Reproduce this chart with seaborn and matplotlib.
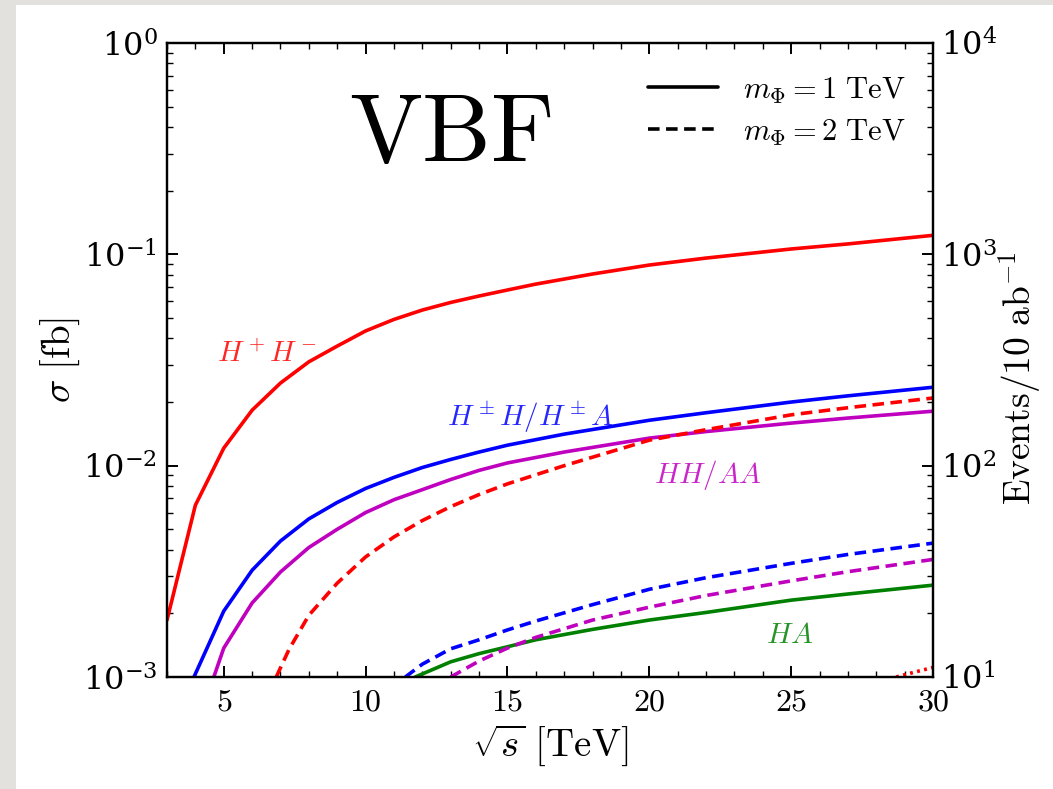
import numpy as np
import pandas as pd
import matplotlib
matplotlib.use("Agg")
import matplotlib.pyplot as plt
from matplotlib.patches import Rectangle
from matplotlib.ticker import LogLocator, LogFormatterMathtext, MultipleLocator, NullFormatter, FuncFormatter
from matplotlib.lines import Line2D
import seaborn as sns

# ---------------- data (sqrt(s) in TeV, sigma in fb) ----------------
x_hphm_1 = [3, 4, 5, 6, 7, 8, 9, 10, 11, 12, 13, 14, 15, 16, 18, 20, 22, 25, 27, 30]
y_hphm_1 = [1.86e-3, 6.5e-3, 0.0121, 0.0183, 0.0246, 0.031, 0.0368, 0.0434, 0.0492,
            0.0545, 0.0592, 0.0635, 0.0678, 0.0723, 0.0807, 0.089, 0.096, 0.106,
            0.112, 0.123]

x_hpmh_1 = [3.95, 5, 6, 7, 8, 9, 10, 11, 12, 13, 14, 15, 17, 20, 22, 25, 27, 30]
y_hpmh_1 = [1.0e-3, 2.05e-3, 3.2e-3, 4.4e-3, 5.6e-3, 6.7e-3, 7.8e-3, 8.8e-3, 9.8e-3,
            0.0107, 0.0116, 0.0125, 0.0141, 0.0164, 0.0178, 0.020, 0.0214, 0.0235]

x_hhaa_1 = [4.65, 5, 6, 7, 8, 9, 10, 11, 12, 13, 14, 15, 17, 20, 22, 25, 27, 30]
y_hhaa_1 = [1.0e-3, 1.37e-3, 2.24e-3, 3.14e-3, 4.1e-3, 5.0e-3, 6.0e-3, 6.9e-3, 7.7e-3,
            8.6e-3, 9.5e-3, 0.0103, 0.0116, 0.0135, 0.0145, 0.0159, 0.0168, 0.0181]

x_ha_1 = [11.75, 13, 14, 15, 16, 18, 20, 22, 25, 27, 30]
y_ha_1 = [1.0e-3, 1.18e-3, 1.29e-3, 1.39e-3, 1.5e-3, 1.68e-3, 1.86e-3, 2.02e-3,
          2.31e-3, 2.47e-3, 2.72e-3]

x_hphm_2 = [6.85, 7.3, 8, 9, 10, 11, 12, 13, 14, 15, 17, 20, 22, 25, 27, 30]
y_hphm_2 = [1.0e-3, 1.35e-3, 1.96e-3, 2.78e-3, 3.7e-3, 4.6e-3, 5.5e-3, 6.4e-3, 7.3e-3,
            8.2e-3, 0.0100, 0.0132, 0.0148, 0.0174, 0.0188, 0.0209]

x_hpmh_2 = [11.4, 12, 13, 14, 15, 16, 18, 20, 22, 25, 27, 30]
y_hpmh_2 = [1.0e-3, 1.15e-3, 1.36e-3, 1.5e-3, 1.67e-3, 1.84e-3, 2.2e-3, 2.6e-3,
            2.95e-3, 3.45e-3, 3.8e-3, 4.3e-3]

x_hhaa_2 = [13.0, 14, 15, 16, 18, 20, 22, 25, 27, 30]
y_hhaa_2 = [1.0e-3, 1.19e-3, 1.37e-3, 1.54e-3, 1.86e-3, 2.14e-3, 2.43e-3, 2.85e-3,
            3.15e-3, 3.6e-3]

x_hphm_3 = [28.7, 29.3, 30]
y_hphm_3 = [1.0e-3, 1.05e-3, 1.11e-3]

legend_labels = [r"$m_\Phi = 1\ \mathrm{TeV}$", r"$m_\Phi = 2\ \mathrm{TeV}$"]
curve_labels = [r"$H^+H^-$", r"$H^\pm H/H^\pm A$", r"$HH/AA$", r"$HA$"]

# ---------------- style ----------------
sns.set_style("ticks")
plt.rcParams["mathtext.fontset"] = "cm"
plt.rcParams["font.family"] = ["DejaVu Serif"]
plt.rcParams["axes.linewidth"] = 1.6
for k in ["text.color", "axes.labelcolor", "xtick.color", "ytick.color", "axes.edgecolor"]:
    plt.rcParams[k] = "black"

fig = plt.figure(figsize=(10.53, 7.89), dpi=100)
fig.patch.set_facecolor("#e3e1dd")
fig.patches.append(Rectangle((16 / 1053, 0), 1, 1 - 5 / 789, transform=fig.transFigure,
                             facecolor="white", edgecolor="none", zorder=-10))

ax = fig.add_axes([167 / 1053, 1 - 677 / 789, (933 - 167) / 1053, (677 - 43) / 789])
ax.set_facecolor("white")

RED, BLUE, MAG, GRN = "#ff0000", "#0000ff", "#bf00bf", "#008000"
lw = 2.6
DASH = (0, (3.2, 1.8))

series = [
    (x_hphm_1, y_hphm_1, RED, "-"),
    (x_hpmh_1, y_hpmh_1, BLUE, "-"),
    (x_hhaa_1, y_hhaa_1, MAG, "-"),
    (x_ha_1, y_ha_1, GRN, "-"),
    (x_hphm_2, y_hphm_2, RED, DASH),
    (x_hpmh_2, y_hpmh_2, BLUE, DASH),
    (x_hhaa_2, y_hhaa_2, MAG, DASH),
    (x_hphm_3, y_hphm_3, RED, (0, (0.8, 1.2))),
]
for xs, ys, c, ls in series:
    df = pd.DataFrame({"x": xs, "y": ys})
    sns.lineplot(data=df, x="x", y="y", ax=ax, color=c, linestyle=ls, lw=lw,
                 estimator=None, sort=True, legend=False)

ax.set_yscale("log")
ax.set_xlim(3, 30)
ax.set_ylim(1e-3, 1)
ax.xaxis.set_major_locator(MultipleLocator(5))
ax.xaxis.set_minor_locator(MultipleLocator(1))
ax.yaxis.set_major_locator(LogLocator(base=10))
ax.yaxis.set_minor_locator(LogLocator(base=10, subs=np.arange(2, 10)))
ax.yaxis.set_minor_formatter(NullFormatter())
ax.yaxis.set_major_formatter(LogFormatterMathtext())
ax.xaxis.set_major_formatter(FuncFormatter(lambda v, p: r"$%d$" % v))

ax.tick_params(axis="both", which="major", direction="in", length=8, width=1.4,
               labelsize=23, top=True, right=False, pad=7)
ax.tick_params(axis="both", which="minor", direction="in", length=4, width=1.0,
               top=True, right=False)

ax.set_xlabel(r"$\sqrt{s}\ [\mathrm{TeV}]$", fontsize=28)
ax.set_ylabel(r"$\sigma\ [\mathrm{fb}]$", fontsize=28)
ax.xaxis.set_label_coords(0.5, -0.072)
ax.yaxis.set_label_coords(-0.111, 0.5)

ax2 = ax.twinx()
ax2.set_yscale("log")
ax2.set_ylim(10, 1e4)
ax2.yaxis.set_major_locator(LogLocator(base=10))
ax2.yaxis.set_minor_locator(LogLocator(base=10, subs=np.arange(2, 10)))
ax2.yaxis.set_minor_formatter(NullFormatter())
ax2.yaxis.set_major_formatter(LogFormatterMathtext())
ax2.tick_params(axis="y", which="major", direction="in", length=8, width=1.4,
                labelsize=23, pad=6)
ax2.tick_params(axis="y", which="minor", direction="in", length=4, width=1.0)
ax2.set_ylabel(r"$\mathrm{Events}/10\ \mathrm{ab}^{-1}$", fontsize=27, rotation=90)
ax2.yaxis.set_label_coords(1.083, 0.472)
for s in ax2.spines.values():
    s.set_linewidth(1.6)

# texts
ax.text(0.37, 0.855, r"$\mathrm{VBF}$", transform=ax.transAxes, fontsize=70,
        ha="center", va="center")
ax.text(0.13, 0.51, curve_labels[0], transform=ax.transAxes, fontsize=21,
        color=RED, alpha=0.85, ha="center", va="center")
ax.text(0.474, 0.41, curve_labels[1], transform=ax.transAxes, fontsize=21,
        color=BLUE, alpha=0.85, ha="center", va="center")
ax.text(0.706, 0.319, curve_labels[2], transform=ax.transAxes, fontsize=21,
        color=MAG, alpha=0.85, ha="center", va="center")
ax.text(0.813, 0.066, curve_labels[3], transform=ax.transAxes, fontsize=21,
        color=GRN, alpha=0.85, ha="center", va="center")

handles = [Line2D([], [], color="black", lw=lw, ls="-"),
           Line2D([], [], color="black", lw=lw, ls=DASH)]
ax.legend(handles, legend_labels, loc="upper right", frameon=False, fontsize=22,
          handlelength=2.3, handletextpad=0.8, labelspacing=0.35,
          bbox_to_anchor=(1.0, 0.995))

fig.savefig("out.png", dpi=100, facecolor=fig.get_facecolor())
